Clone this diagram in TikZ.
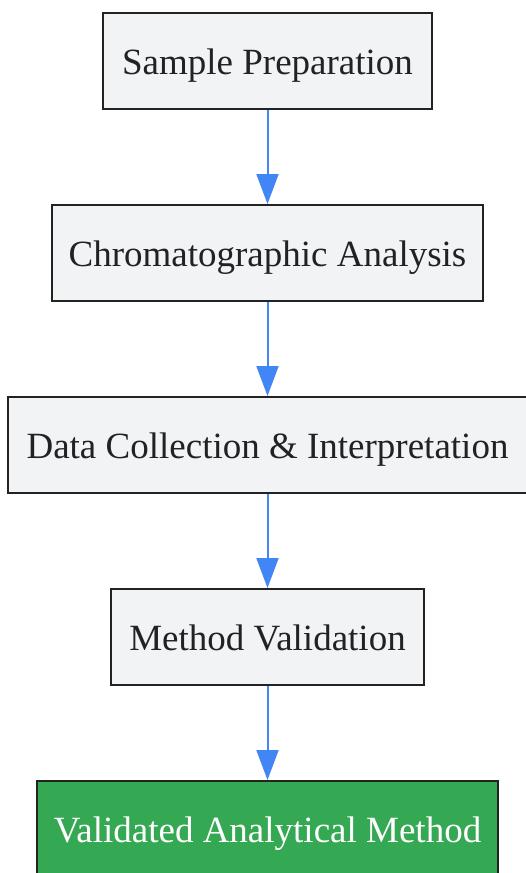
\documentclass[tikz,border=0pt]{standalone}
\usepackage{fontspec}
\setmainfont{Liberation Serif}
\usetikzlibrary{arrows.meta}
\definecolor{boxfill}{HTML}{F2F3F5}
\definecolor{boxline}{HTML}{222222}
\definecolor{arrowblue}{HTML}{4285F4}
\definecolor{okgreen}{HTML}{34A853}
\begin{document}
\begin{tikzpicture}[x=1pt,y=1pt,
  stepbox/.style={draw=boxline, fill=boxfill, line width=2pt, inner sep=0pt,
    minimum height=96pt, text height=27pt, text depth=0pt, text=boxline,
    font=\fontsize{37}{44}\selectfont, anchor=center},
  finalbox/.style={stepbox, fill=okgreen, text=white},
  flow/.style={draw=arrowblue, line width=2pt, -{Triangle[length=30pt,width=22pt]}}]
\useasboundingbox (0,0) rectangle (525,-873);
\node[stepbox, minimum width=329pt] (a) at (267.5,-61) {Sample Preparation};
\node[stepbox, minimum width=431pt] (b) at (267.5,-253) {Chromatographic Analysis};
\node[stepbox, minimum width=520pt] (c) at (267.5,-445) {Data Collection \& Interpretation};
\node[stepbox, minimum width=313pt] (d) at (267.5,-637) {Method Validation};
\node[finalbox, minimum width=461pt] (e) at (267.5,-829) {Validated Analytical Method};
\draw[flow] (a) -- (b);
\draw[flow] (b) -- (c);
\draw[flow] (c) -- (d);
\draw[flow] (d) -- (e);
\end{tikzpicture}
\end{document}
